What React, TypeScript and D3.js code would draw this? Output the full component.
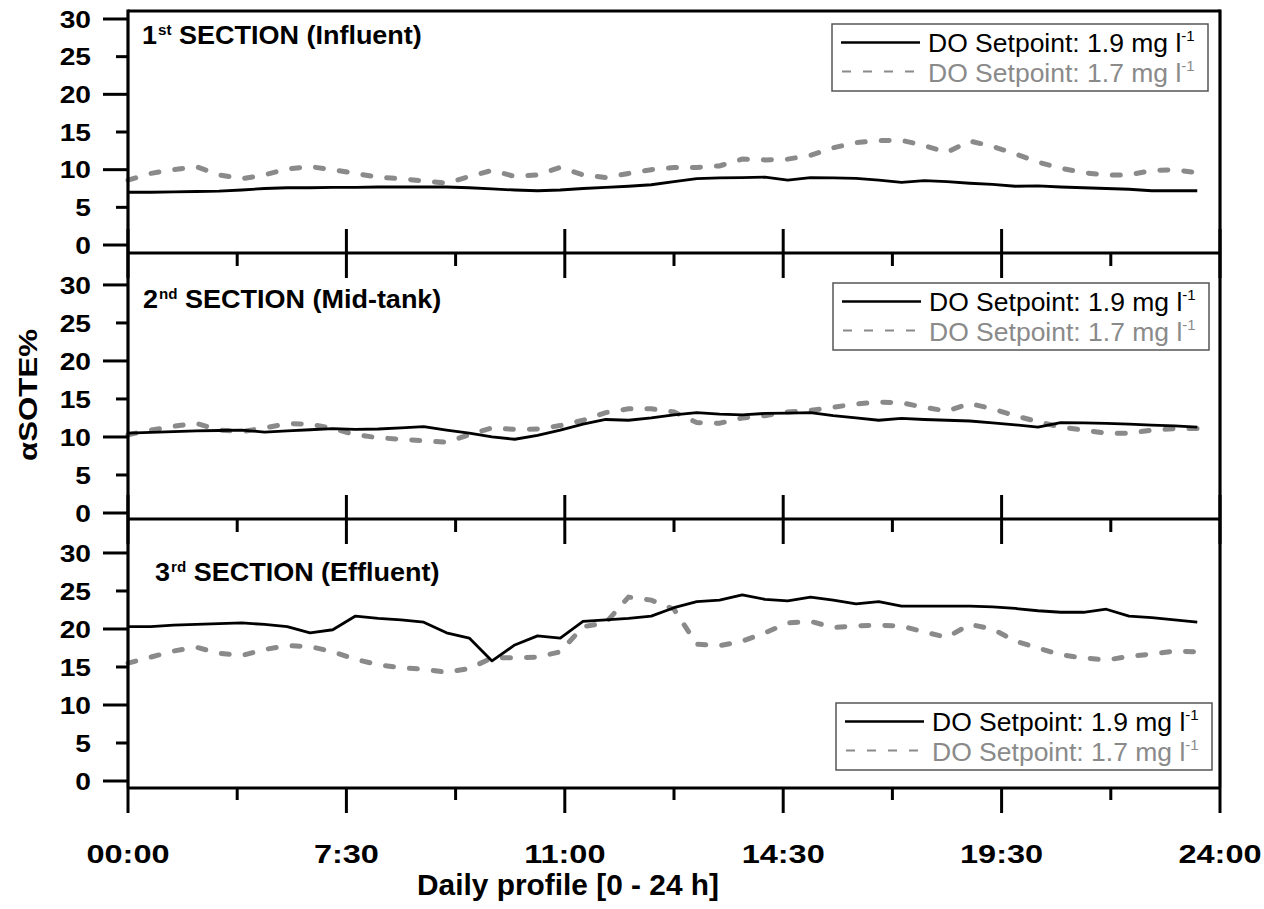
import React from "react";
import * as d3 from "d3";

// ---------- DATA ----------
const xTickLabels = ["00:00", "7:30", "11:00", "14:30", "19:30", "24:00"];
const yTickValues = [0, 5, 10, 15, 20, 25, 30];
const legendLabels = ["DO Setpoint: 1.9 mg l", "DO Setpoint: 1.7 mg l"];
const panelTitles = [
  { num: "1", sup: "st", rest: " SECTION (Influent)" },
  { num: "2", sup: "nd", rest: " SECTION (Mid-tank)" },
  { num: "3", sup: "rd", rest: " SECTION (Effluent)" },
];

// Section 1 (Influent)
const s1Solid = [
  7.0, 7.0, 7.05, 7.1, 7.15, 7.3, 7.5, 7.6, 7.6, 7.65, 7.65, 7.7,
  7.7, 7.7, 7.7, 7.6, 7.45, 7.3, 7.2, 7.3, 7.5, 7.65, 7.8, 8.0,
  8.4, 8.8, 8.9, 8.95, 9.0, 8.6, 8.95, 8.9, 8.85, 8.6, 8.3, 8.55,
  8.4, 8.2, 8.05, 7.8, 7.85, 7.7, 7.6, 7.5, 7.4, 7.2, 7.2, 7.2,
];
const s1Dashed = [
  8.6, 9.5, 10.0, 10.4, 9.3, 8.8, 9.3, 10.1, 10.4, 10.0, 9.5, 9.0,
  8.8, 8.5, 8.2, 9.1, 9.9, 9.1, 9.3, 10.3, 9.3, 8.95, 9.5, 10.0,
  10.3, 10.3, 10.5, 11.4, 11.3, 11.4, 11.9, 12.9, 13.6, 13.85, 13.9, 13.2,
  12.3, 13.8, 13.1, 12.1, 11.0, 10.2, 9.6, 9.3, 9.3, 9.9, 10.0, 9.6,
];

// Section 2 (Mid-tank)
const s2Solid = [
  10.5, 10.6, 10.7, 10.8, 10.85, 10.9, 10.65, 10.8, 10.95, 11.1, 11.0, 11.05,
  11.2, 11.35, 10.9, 10.5, 10.0, 9.7, 10.2, 10.9, 11.7, 12.3, 12.2, 12.5,
  12.9, 13.2, 13.0, 12.9, 13.1, 13.15, 13.2, 12.8, 12.5, 12.2, 12.45, 12.3,
  12.2, 12.1, 11.85, 11.6, 11.3, 11.9, 11.85, 11.8, 11.7, 11.55, 11.45, 11.3,
];
const s2Dashed = [
  10.3, 10.9, 11.4, 11.8, 10.9, 10.7, 11.2, 11.75, 11.7, 11.1, 10.3, 9.9,
  9.7, 9.5, 9.3, 10.3, 11.2, 11.0, 11.05, 11.5, 12.2, 13.2, 13.7, 13.7,
  13.3, 11.9, 11.8, 12.5, 12.8, 13.3, 13.5, 13.9, 14.35, 14.6, 14.5, 13.9,
  13.4, 14.4, 13.7, 12.8, 12.0, 11.3, 10.9, 10.5, 10.5, 10.9, 11.1, 11.1,
];

// Section 3 (Effluent)
const s3Solid = [
  20.3, 20.3, 20.5, 20.6, 20.7, 20.8, 20.6, 20.3, 19.5, 19.9, 21.7, 21.4,
  21.2, 20.9, 19.5, 18.8, 15.8, 17.9, 19.1, 18.8, 21.0, 21.2, 21.4, 21.7,
  22.8, 23.6, 23.8, 24.5, 23.9, 23.7, 24.2, 23.8, 23.3, 23.6, 23.0, 23.0,
  23.0, 23.0, 22.9, 22.7, 22.4, 22.2, 22.2, 22.6, 21.7, 21.5, 21.2, 20.9,
];
const s3Dashed = [
  15.5, 16.3, 17.1, 17.6, 16.8, 16.5, 17.3, 17.8, 17.7, 17.0, 16.0, 15.3,
  14.9, 14.7, 14.3, 14.8, 16.2, 16.2, 16.3, 17.0, 20.3, 20.8, 24.2, 23.8,
  22.6, 18.0, 17.8, 18.4, 19.5, 20.8, 21.0, 20.2, 20.4, 20.5, 20.4, 19.6,
  18.9, 20.6, 20.0, 18.4, 17.5, 16.6, 16.2, 15.9, 16.4, 16.7, 17.1, 17.0,
];

// ---------- LAYOUT ----------
const W = 1264;
const H = 909;
const FONT = "'Liberation Sans', Arial, Helvetica, sans-serif";
const GRAY = "#8a8a8a";
const X0 = 128;
const X1 = 1220;

const panels = [
  { top: 11, bottom: 253, domain: [-1.06, 31.06], solid: s1Solid, dashed: s1Dashed, titleX: 142, titleY: 44, legX: 832, legY: 24 },
  { top: 253, bottom: 519, domain: [-0.79, 34.2], solid: s2Solid, dashed: s2Dashed, titleX: 143, titleY: 308, legX: 833, legY: 283 },
  { top: 519, bottom: 788, domain: [-0.92, 34.47], solid: s3Solid, dashed: s3Dashed, titleX: 155, titleY: 581, legX: 836, legY: 703 },
];

const NX = 48;
const x = d3.scaleLinear().domain([0, NX]).range([X0, X1]);
const majorX = xTickLabels.map((_, k) => (k * NX) / (xTickLabels.length - 1));
const minorX = majorX.slice(0, -1).map((v) => v + NX / (xTickLabels.length - 1) / 2);

function SText(props: any) {
  const { x, y, sx = 1, rotate = 0, anchor = "start", size, weight = "bold", fill = "#000", children } = props;
  return (
    <g transform={`translate(${x},${y}) rotate(${rotate}) scale(${sx},1)`}>
      <text textAnchor={anchor} fontFamily={FONT} fontSize={size} fontWeight={weight} fill={fill}>
        {children}
      </text>
    </g>
  );
}

function Panel({ p, idx }: { p: any; idx: number }) {
  const y = d3.scaleLinear().domain(p.domain).range([p.bottom, p.top]);
  const line = d3
    .line<number>()
    .x((_, i) => x(i))
    .y((d) => y(d))
    .curve(d3.curveLinear);
  const t = panelTitles[idx];
  const lw = 376;
  const lh = 67;
  return (
    <g>
      {/* data */}
      <path d={line(p.dashed) || ""} fill="none" stroke={GRAY} strokeWidth={5} strokeDasharray="8 16" strokeLinecap="round" />
      <path d={line(p.solid) || ""} fill="none" stroke="#000" strokeWidth={2.8} strokeLinejoin="round" />

      {/* y ticks */}
      {yTickValues.map((v) => {
        const major = v % 10 === 0;
        const yy = y(v);
        return (
          <g key={v}>
            <line x1={major ? X0 - 25 : X0 - 12} x2={X0} y1={yy} y2={yy} stroke="#000" strokeWidth={3} />
            <SText x={91} y={yy + 8.8} sx={1.15} anchor="end" size={24.5}>
              {String(v)}
            </SText>
          </g>
        );
      })}

      {/* x ticks at top edge (inward, down) for lower panels */}
      {idx > 0 &&
        majorX.map((v) => (
          <line key={"tm" + v} x1={x(v)} x2={x(v)} y1={p.top} y2={p.top + 25} stroke="#000" strokeWidth={3} />
        ))}
      {idx > 0 &&
        minorX.map((v) => (
          <line key={"tn" + v} x1={x(v)} x2={x(v)} y1={p.top} y2={p.top + 13} stroke="#000" strokeWidth={3} />
        ))}
      {/* x ticks at bottom edge (inward, up) for upper panels */}
      {idx < 2 &&
        majorX.map((v) => (
          <line key={"bm" + v} x1={x(v)} x2={x(v)} y1={p.bottom} y2={p.bottom - 24} stroke="#000" strokeWidth={3} />
        ))}

      {/* panel title */}
      <g transform={`translate(${p.titleX},${p.titleY}) scale(1.08,1)`}>
        <text fontFamily={FONT} fontWeight="bold" fontSize={25} fill="#000">
          {t.num}
          <tspan fontSize={14} dy={-9} dx={1}>
            {t.sup}
          </tspan>
          <tspan dy={9}>{t.rest}</tspan>
        </text>
      </g>

      {/* legend */}
      <g transform={`translate(${p.legX},${p.legY})`}>
        <rect x={0} y={0} width={lw} height={lh} fill="#fff" stroke="#555" strokeWidth={1.5} />
        <line x1={9} x2={88} y1={18.5} y2={18.5} stroke="#000" strokeWidth={2.5} />
        <line x1={10} x2={92} y1={47.5} y2={47.5} stroke={GRAY} strokeWidth={2} strokeDasharray="9 12" />
        <text x={96} y={27.5} fontFamily={FONT} fontSize={26.5} fill="#000">
          {legendLabels[0]}
          <tspan fontSize={15} dy={-11}>
            -1
          </tspan>
        </text>
        <text x={96} y={57.5} fontFamily={FONT} fontSize={26.5} fill={GRAY}>
          {legendLabels[1]}
          <tspan fontSize={15} dy={-11}>
            -1
          </tspan>
        </text>
      </g>
    </g>
  );
}

export default function App() {
  const bottom = panels[2].bottom;
  return (
    <svg
      width={W}
      height={H}
      viewBox={`0 0 ${W} ${H}`}
      style={{ position: "absolute", left: 0, top: 0, background: "#fff" }}
    >
      <rect x={0} y={0} width={W} height={H} fill="#fff" />
      {panels.map((p, i) => (
        <Panel key={i} p={p} idx={i} />
      ))}

      {/* frame */}
      <line x1={X0} x2={X1} y1={panels[0].top} y2={panels[0].top} stroke="#000" strokeWidth={3.2} />
      {panels.map((p, i) => (
        <line key={"h" + i} x1={X0} x2={X1} y1={p.bottom} y2={p.bottom} stroke="#000" strokeWidth={3.2} />
      ))}
      <line x1={X0} x2={X0} y1={panels[0].top - 1.5} y2={bottom} stroke="#000" strokeWidth={3.2} />
      <line x1={X1} x2={X1} y1={panels[0].top - 1.5} y2={bottom} stroke="#000" strokeWidth={3.2} />

      {/* bottom x axis ticks (outward) */}
      {majorX.map((v) => (
        <line key={"xm" + v} x1={x(v)} x2={x(v)} y1={bottom} y2={bottom + 25} stroke="#000" strokeWidth={3} />
      ))}
      {minorX.map((v) => (
        <line key={"xn" + v} x1={x(v)} x2={x(v)} y1={bottom} y2={bottom + 12} stroke="#000" strokeWidth={3} />
      ))}
      {majorX.map((v, k) => (
        <SText key={"xl" + k} x={x(v)} y={863} sx={1.25} anchor="middle" size={26}>
          {xTickLabels[k]}
        </SText>
      ))}

      {/* axis titles */}
      <SText x={568} y={895} sx={1.03} anchor="middle" size={29}>
        Daily profile [0 - 24 h]
      </SText>
      <SText x={37} y={395} rotate={-90} sx={1.2} anchor="middle" size={26}>
        αSOTE%
      </SText>
    </svg>
  );
}
